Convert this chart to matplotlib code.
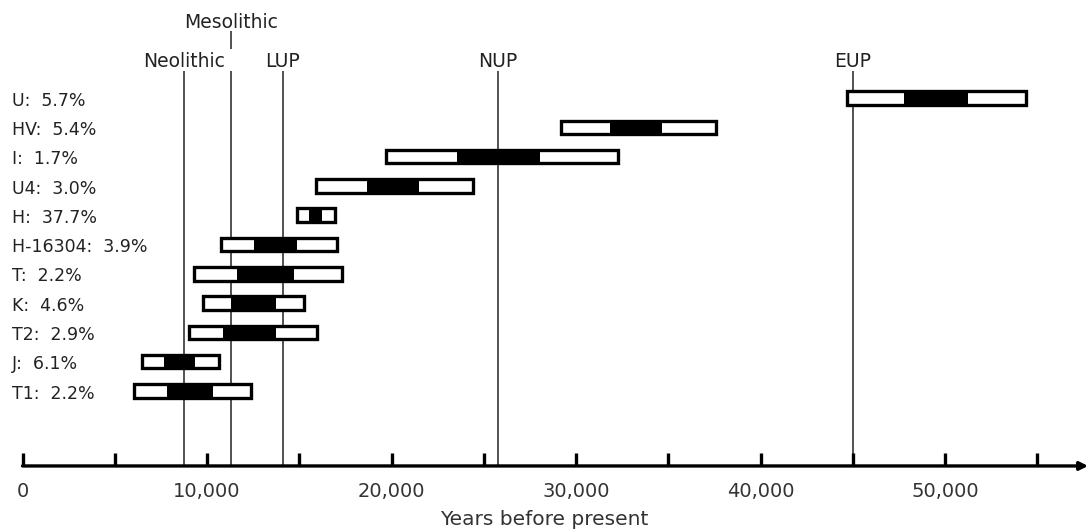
import numpy as np
import matplotlib
matplotlib.use("Agg")
import matplotlib.pyplot as plt
import matplotlib.transforms as mtransforms

# haplogroups (top to bottom) with frequency
labels = ["U:  5.7%", "HV:  5.4%", "I:  1.7%", "U4:  3.0%", "H:  37.7%", "H-16304:  3.9%",
          "T:  2.2%", "K:  4.6%", "T2:  2.9%", "J:  6.1%", "T1:  2.2%"]
# outer range (years before present)
range_lo = [44700, 29200, 19700, 15900, 14850, 10750, 9300, 9800, 9050, 6450, 6050]
range_hi = [54400, 37600, 32300, 24400, 16950, 17050, 17300, 15250, 15950, 10650, 12400]
# central estimate (black part)
core_lo = [47800, 31850, 23550, 18650, 15500, 12550, 11650, 11300, 10850, 7650, 7850]
core_hi = [51250, 34650, 28050, 21500, 16250, 14850, 14700, 13750, 13750, 9350, 10300]

periods = ["Neolithic", "Mesolithic", "LUP", "NUP", "EUP"]
period_years = [8750, 11300, 14100, 25750, 45000]

ticks = np.arange(0, 55001, 5000)
tick_labels = ["0", "10,000", "20,000", "30,000", "40,000", "50,000"]
tick_label_pos = [0, 10000, 20000, 30000, 40000, 50000]

plt.rcParams['font.family'] = ['DejaVu Sans']

fig = plt.figure(figsize=(10.89, 5.31), dpi=100)
ax = fig.add_axes([0, 0, 1, 1])
ax.set_xlim(-1220, 57800)
ax.set_ylim(14.78, -3.345)
ax.axis('off')

rows = np.arange(len(labels))
axis_y = 12.56
bar_h = 0.46

# period lines
for name, yr in zip(periods, period_years):
    ax.vlines(yr, -0.93, axis_y, color='#222222', lw=1.1, zorder=1)
    if name == "Mesolithic":
        ax.vlines(yr, -2.28, -1.67, color='#222222', lw=1.1)
        ax.text(yr, -2.38, name, ha='center', va='baseline', fontsize=13.5, color='#222222')
    else:
        ax.text(yr, -1.07, name, ha='center', va='baseline', fontsize=13.5, color='#222222')

# bars
lo = np.array(range_lo)
hi = np.array(range_hi)
clo = np.array(core_lo)
chi = np.array(core_hi)
ax.barh(rows, hi - lo, left=lo, height=bar_h, facecolor='white', edgecolor='black', lw=2.4, zorder=2)
ax.barh(rows, chi - clo, left=clo, height=bar_h, facecolor='black', edgecolor='none', zorder=3)

# row labels
trans = mtransforms.blended_transform_factory(fig.transFigure, ax.transData)
for r, lab in zip(rows, labels):
    ax.text(12 / 1089, r + 0.26, lab, transform=trans, ha='left', va='baseline',
            fontsize=12.5, color='#222222')

# x axis with arrow
ax.annotate('', xy=(57750, axis_y), xytext=(0, axis_y),
            arrowprops=dict(arrowstyle='-|>', lw=2.4, color='black', mutation_scale=12,
                            shrinkA=0, shrinkB=0))
ax.vlines(ticks, axis_y - 0.45, axis_y, color='black', lw=2.4)
for pos, tl in zip(tick_label_pos, tick_labels):
    ax.text(pos, 13.61, tl, ha='center', va='baseline', fontsize=14, color='#333333')

fig.text(0.5, 1 - 525 / 531, "Years before present", ha='center', va='baseline',
         fontsize=14.5, color='#333333')

fig.savefig('out.png', dpi=100)
